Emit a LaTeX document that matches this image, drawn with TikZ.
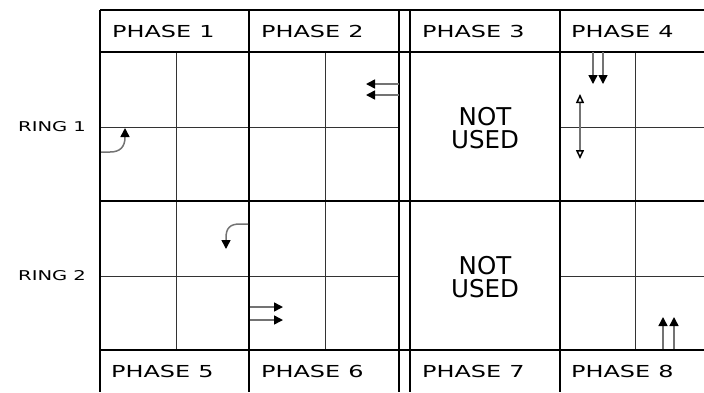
\documentclass[tikz,border=0pt]{standalone}
\usepackage{fontspec}
\setmainfont{DejaVu Sans}
\newfontfamily\lblfont[FakeStretch=1.45]{DejaVu Sans}
\usetikzlibrary{arrows.meta}
\begin{document}
\begin{tikzpicture}[x=1pt,y=-1pt,
  thickline/.style={line width=2.7pt,black},
  thinline/.style={line width=1pt,black!80},
  shaft/.style={line width=1.5pt,black!55,-{Triangle[length=9pt,width=9pt,color=black]}},
  dshaft/.style={line width=1.5pt,black!55,{Triangle[open,length=9pt,width=8pt,color=black,fill=white]}-{Triangle[open,length=9pt,width=8pt,color=black,fill=white]}},
  hdr/.style={anchor=west,font=\fontsize{16.5}{16.5}\lblfont,inner sep=0pt},
  ring/.style={anchor=west,font=\fontsize{13.5}{13.5}\lblfont,inner sep=0pt},
  unused/.style={align=center,font=\fontsize{24.5}{23}\selectfont,inner sep=0pt}]
\useasboundingbox (0,0) rectangle (704,392);
% thin grid
\draw[thinline] (176,52) -- (176,350) (325,52) -- (325,350) (635,52) -- (635,350);
\draw[thinline] (100,127) -- (399,127) (560,127) -- (704,127);
\draw[thinline] (100,276) -- (399,276) (560,276) -- (704,276);
% thick grid
\draw[thickline] (100,10) -- (704,10) (100,52) -- (704,52) (100,201) -- (704,201) (100,350) -- (704,350);
\draw[thickline] (100,10) -- (100,392) (249,10) -- (249,392) (399,10) -- (399,392) (410,10) -- (410,392) (560,10) -- (560,392);
% headers
\node[hdr] (p1) at (112,31) {PHASE\hspace{8pt}1};
\node[hdr] (p2) at (261,31) {PHASE\hspace{8pt}2};
\node[hdr] (p3) at (422,31) {PHASE\hspace{8pt}3};
\node[hdr] (p4) at (571,31) {PHASE\hspace{8pt}4};
\node[hdr] (p5) at (111,371) {PHASE\hspace{8pt}5};
\node[hdr] (p6) at (261,371) {PHASE\hspace{8pt}6};
\node[hdr] (p7) at (422,371) {PHASE\hspace{8pt}7};
\node[hdr] (p8) at (571,371) {PHASE\hspace{8pt}8};
\node[ring] (r1) at (18,127) {RING\hspace{6pt}1};
\node[ring] (r2) at (18,276) {RING\hspace{6pt}2};
\node[unused] (nu1) at (485,128) {NOT\\USED};
\node[unused] (nu2) at (485,277) {NOT\\USED};
% arrow end points
\coordinate (a1s) at (101,152);
\coordinate (a1e) at (125,128);
\coordinate (b1s) at (399,84);
\coordinate (b1e) at (366,84);
\coordinate (b2s) at (399,95);
\coordinate (b2e) at (366,95);
\coordinate (c1s) at (593,52);
\coordinate (c1e) at (593,84);
\coordinate (c2s) at (603,52);
\coordinate (c2e) at (603,84);
\coordinate (d1s) at (580,94);
\coordinate (d1e) at (580,159);
\coordinate (e1s) at (248,224);
\coordinate (e1e) at (226,249);
\coordinate (f1s) at (250,307);
\coordinate (f1e) at (283,307);
\coordinate (f2s) at (250,320);
\coordinate (f2e) at (283,320);
\coordinate (g1s) at (663,349);
\coordinate (g1e) at (663,317);
\coordinate (g2s) at (674,349);
\coordinate (g2e) at (674,317);
% arrows
\draw[shaft] (a1s) -- ++(9,0) .. controls +(10,0) and +(0,10) .. ++(15,-15) -- (a1e);
\draw[shaft] (b1s) -- (b1e);
\draw[shaft] (b2s) -- (b2e);
\draw[shaft] (c1s) -- (c1e);
\draw[shaft] (c2s) -- (c2e);
\draw[dshaft] (d1s) -- (d1e);
\draw[shaft] (e1s) -- ++(-8,0) .. controls +(-10,0) and +(0,-10) .. ++(-14,14) -- (e1e);
\draw[shaft] (f1s) -- (f1e);
\draw[shaft] (f2s) -- (f2e);
\draw[shaft] (g1s) -- (g1e);
\draw[shaft] (g2s) -- (g2e);
\end{tikzpicture}
\end{document}
